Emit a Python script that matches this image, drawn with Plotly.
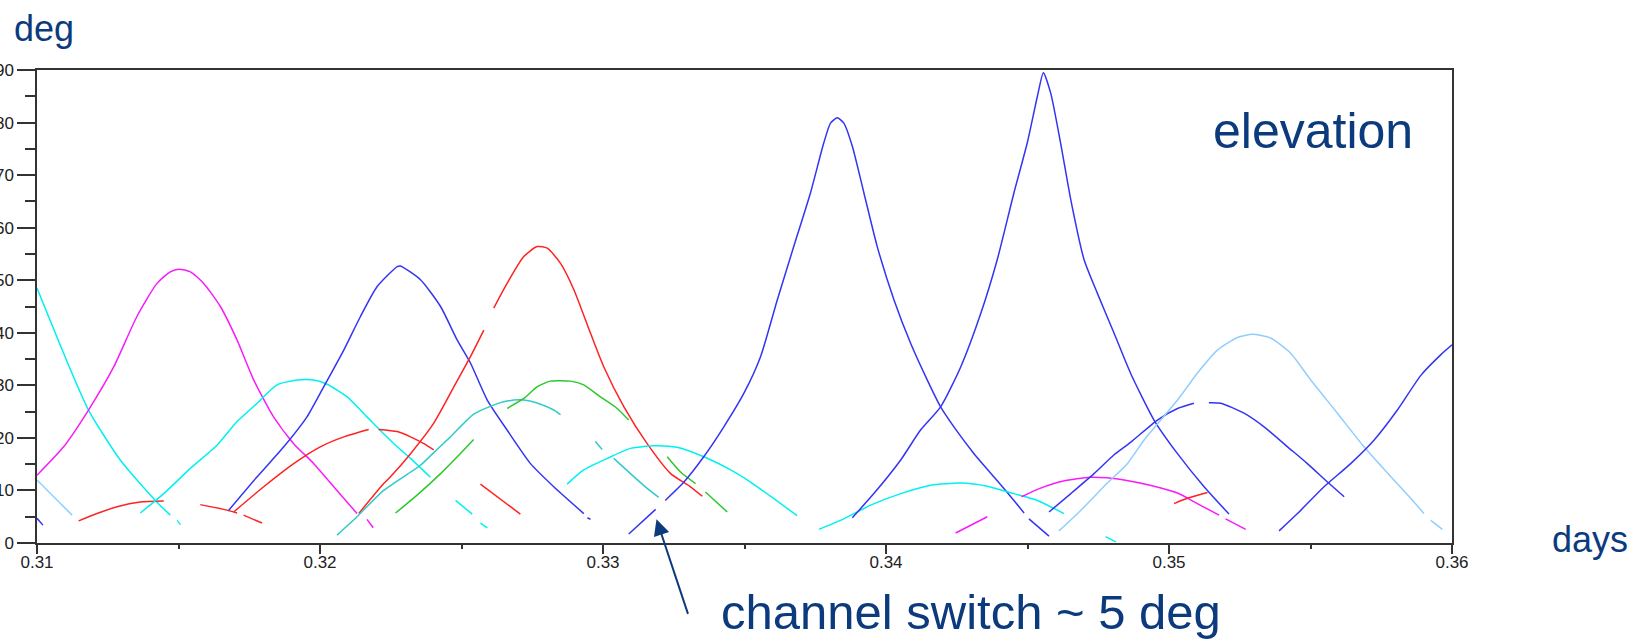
import plotly.graph_objects as go

# ---- satellite elevation tracks (days, degrees); None marks a break in a track ----
t01_days = [0.31, 0.31094, 0.31182, 0.31294, 0.31418, 0.31471, None, 0.31495, 0.31507]
t01_elev = [48.5, 36.1, 25.3, 15.8, 8.1, 5.3, None, 4.3, 3.5]

t02_days = [0.31, 0.31124]
t02_elev = [12.0, 5.3]

t03_days = [0.31, 0.31021]
t03_elev = [4.7, 3.4]

t04_days = [0.31, 0.31094, 0.31182, 0.31271, 0.31353, 0.31424, 0.31471, 0.31501, 0.31542,
            0.31589, 0.31648, 0.31707, 0.31766, 0.31836, 0.31907, 0.31978, 0.3206, 0.32131,
            None, 0.32166, 0.32188]
t04_elev = [12.9, 18.3, 25.3, 33.5, 43.1, 49.4, 51.6, 52.1, 51.6,
            49.4, 45.0, 38.6, 31.0, 24.0, 18.9, 15.1, 10.0, 5.6,
            None, 4.5, 2.9]

t05_days = [0.31147, 0.31212, 0.31283, 0.31365, 0.31448]
t05_elev = [4.2, 5.6, 6.9, 7.8, 8.0]

t06_days = [0.31365, 0.31448, 0.31542, 0.31636, 0.31707, 0.31778, 0.31848, 0.31919, 0.31978,
            0.32025, 0.32096, 0.32166, 0.32225, 0.32273, 0.3232, 0.3239]
t06_elev = [5.7, 9.4, 14.2, 18.6, 23.1, 26.6, 30.1, 31.0, 31.0,
            30.2, 27.8, 24.0, 20.8, 18.3, 16.1, 12.5]

t07_days = [0.31577, 0.3166, 0.31707, None, 0.3173, 0.31795]
t07_elev = [7.3, 6.4, 5.7, None, 5.3, 3.8]

t08_days = [0.31677, 0.31778, 0.31872, 0.31954, 0.32013, 0.32084, 0.32143, 0.32202, 0.32273,
            0.32284, 0.32355, 0.32426, 0.32485, 0.32532, 0.32591, 0.32661, 0.32744, 0.32826,
            0.32932, None, 0.32945, 0.32956]
t08_elev = [6.2, 12.6, 18.3, 24.0, 29.7, 36.7, 43.1, 48.8, 52.6,
            52.7, 50.1, 45.0, 38.6, 34.2, 27.2, 21.5, 15.1, 10.7,
            5.6, None, 4.8, 4.5]

t09_days = [0.31695, 0.31801, 0.31907, 0.32001, 0.32084, 0.32172, None, 0.32207, 0.32273,
            0.3232, 0.32367, 0.32402]
t09_elev = [5.9, 10.7, 15.1, 18.3, 20.2, 21.6, None, 21.6, 21.2, 20.2, 18.9, 17.7]

t10_days = [0.32137, 0.32225, 0.32249, 0.3232, 0.32402, 0.32473, 0.32532, 0.32579, None,
            0.32614, 0.32661, 0.3272, 0.32767, 0.32803, 0.3285, 0.32897, 0.32956, 0.33003,
            0.33074, 0.33156, 0.33239, 0.33309, 0.33351]
t10_elev = [5.6, 11.3, 12.6, 17.0, 22.8, 29.7, 35.5, 40.5, None,
            44.7, 49.4, 54.5, 56.4, 56.1, 53.2, 48.2, 39.9, 33.5,
            25.9, 18.9, 13.2, 10.7, 8.9]

t11_days = [0.3206, 0.32131, 0.32225, 0.32355, 0.32402, 0.32461, 0.32543, 0.32602, 0.32661,
            0.3272, 0.32779, 0.32826, 0.3285]
t11_elev = [1.5, 5.0, 10.0, 14.8, 17.2, 20.2, 24.5, 26.0, 27.0, 27.2, 26.4, 25.3, 24.4]

t12_days = [0.32267, 0.32343, 0.32426, 0.32485, 0.32543]
t12_elev = [5.7, 9.1, 13.2, 16.4, 19.7]

t13_days = [0.32661, 0.3272, 0.32767, 0.32814, 0.32885, 0.32932, 0.32991, 0.3305, 0.33091]
t13_elev = [25.6, 27.5, 29.7, 30.8, 30.8, 30.1, 27.8, 25.6, 23.4]

t14_days = [0.32479, 0.32538, None, 0.32567, 0.32591]
t14_elev = [8.1, 5.5, None, 3.8, 2.9]

t15_days = [0.32567, 0.32708]
t15_elev = [11.2, 5.5]

t16_days = [0.32873, 0.32932, 0.33015, 0.33097, 0.3318, 0.33262, 0.33356, 0.33451, 0.33521,
            0.33592, 0.33686]
t16_elev = [11.2, 13.9, 16.1, 18.0, 18.5, 18.2, 16.4, 13.9, 11.6, 8.9, 5.2]

t17_days = [0.32973, 0.32997, None, 0.33038, 0.33097, 0.33156, 0.33197]
t17_elev = [19.3, 17.8, None, 16.1, 13.2, 10.4, 8.7]

t18_days = [0.33227, 0.33274, 0.33327, None, 0.33362, 0.33439]
t18_elev = [16.4, 13.5, 11.3, None, 9.7, 5.9]

t19_days = [0.33091, 0.33186]
t19_elev = [1.7, 6.4]

t20_days = [0.3322, 0.33286, 0.33356, 0.33427, 0.33498, 0.33557, 0.33616, 0.33674, 0.33733,
            0.3378, 0.33804, 0.33828, 0.33851, 0.33881, 0.33922, 0.33969, 0.34028, 0.34087,
            0.34146, 0.34193, 0.3424, 0.34311, 0.34381, 0.34452, 0.34488, None, 0.34505, 0.34576]
t20_elev = [8.1, 11.6, 16.4, 22.1, 28.5, 35.5, 46.3, 56.4, 66.6,
            76.1, 79.9, 80.9, 79.9, 75.5, 66.6, 56.4, 46.3, 38.0,
            31.0, 25.9, 22.1, 17.0, 12.6, 8.1, 5.7, None, 4.6, 1.3]

t21_days = [0.33763, 0.33851, 0.33946, 0.34052, 0.34158, 0.34264, 0.34358, 0.34452, 0.34535,
            0.34629]
t21_elev = [2.6, 4.6, 7.2, 9.4, 11.0, 11.4, 10.8, 9.4, 8.1, 5.6]

t22_days = [0.33881, 0.33957, 0.34052, 0.34122, 0.34193, 0.34264, 0.34335, 0.34393, 0.34452,
            0.34499, 0.34535, 0.34556, 0.34582, 0.34617, 0.34653, 0.347, 0.34747, 0.34806,
            0.34865, 0.34947, 0.3503, 0.35124, 0.35212]
t22_elev = [4.8, 9.4, 15.8, 21.5, 25.9, 33.5, 43.7, 53.9, 66.6,
            76.1, 85.0, 89.5, 85.6, 76.1, 65.3, 53.9, 47.5, 39.9,
            32.2, 23.4, 17.0, 10.7, 5.5]

t23_days = [0.34246, 0.34358]
t23_elev = [1.9, 5.0]

t24_days = [0.34479, 0.34544, 0.34627, 0.34721, 0.3478, 0.34851, 0.34933, 0.3503, 0.351,
            0.35177, None, 0.352, 0.35271]
t24_elev = [8.8, 10.4, 11.8, 12.5, 12.4, 11.9, 11.0, 9.5, 7.5, 5.3, None, 4.6, 2.6]

t25_days = [0.34576, 0.34653, 0.34735, 0.34806, 0.34865, 0.34959, 0.3503, 0.35088, None,
            0.35141, 0.35183, 0.35265, 0.35336, 0.35419, 0.35489, 0.3556, 0.35619]
t25_elev = [5.9, 9.4, 13.2, 16.8, 19.2, 23.4, 25.6, 26.6, None,
            26.7, 26.6, 24.7, 22.1, 18.3, 15.1, 11.6, 8.8]

t26_days = [0.34611, 0.34688, 0.34782, 0.34853, 0.34912, 0.3503, 0.351, 0.35171, 0.35242,
            0.35295, 0.35359, 0.3543, 0.35501, 0.35595, 0.35689, 0.35784, 0.35854, 0.35901,
            None, 0.35925, 0.35966]
t26_elev = [2.3, 6.2, 11.4, 15.1, 19.6, 27.2, 32.3, 36.7, 39.1,
            39.7, 39.0, 36.1, 31.0, 24.7, 18.3, 12.6, 8.5, 5.6,
            None, 4.3, 2.6]

t27_days = [0.35018, 0.35065, 0.35136]
t27_elev = [7.5, 8.5, 9.6]

t28_days = [0.35389, 0.35454, 0.35548, 0.35642, 0.35725, 0.35807, 0.3589, 0.3596, 0.36]
t28_elev = [2.3, 5.6, 10.7, 15.1, 19.6, 25.3, 31.9, 35.8, 37.7]

t29_days = [0.34776, 0.34812]
t29_elev = [1.2, 0.2]

x_tick_vals = [0.31, 0.32, 0.33, 0.34, 0.35, 0.36]
x_tick_text = ["0.31", "0.32", "0.33", "0.34", "0.35", "0.36"]
y_tick_vals = [0, 10, 20, 30, 40, 50, 60, 70, 80, 90]
y_tick_text = ["0", "10", "20", "30", "40", "50", "60", "70", "80", "90"]

# ---- styling ----
CYAN = "#00F0F0"
MAGENTA = "#F81CF8"
BLUE = "#3434F4"
RED = "#FF2222"
GREEN = "#2CC82C"
TEAL = "#30CACA"
LIGHTBLUE = "#90CEFF"
NAVY = "#0C3B7D"
AXIS = "#333333"
FONT = "Liberation Sans, Arial, sans-serif"

tracks = [
    (t01_days, t01_elev, CYAN), (t02_days, t02_elev, LIGHTBLUE), (t03_days, t03_elev, BLUE),
    (t04_days, t04_elev, MAGENTA), (t05_days, t05_elev, RED), (t06_days, t06_elev, CYAN),
    (t07_days, t07_elev, RED), (t08_days, t08_elev, BLUE), (t09_days, t09_elev, RED),
    (t10_days, t10_elev, RED), (t11_days, t11_elev, TEAL), (t12_days, t12_elev, GREEN),
    (t13_days, t13_elev, GREEN), (t14_days, t14_elev, CYAN), (t15_days, t15_elev, RED),
    (t16_days, t16_elev, CYAN), (t17_days, t17_elev, TEAL), (t18_days, t18_elev, GREEN),
    (t19_days, t19_elev, BLUE), (t20_days, t20_elev, BLUE), (t21_days, t21_elev, CYAN),
    (t22_days, t22_elev, BLUE), (t23_days, t23_elev, MAGENTA), (t24_days, t24_elev, MAGENTA),
    (t25_days, t25_elev, BLUE), (t26_days, t26_elev, LIGHTBLUE), (t27_days, t27_elev, RED),
    (t28_days, t28_elev, BLUE), (t29_days, t29_elev, CYAN),
]

fig = go.Figure()
for days, elev, color in tracks:
    fig.add_trace(go.Scatter(x=days, y=elev, mode="lines", connectgaps=False,
                             line=dict(color=color, width=1.5, shape="spline", smoothing=0.6),
                             hoverinfo="skip", showlegend=False))

# plot area in page pixels
L, R, T, B = 37, 1452, 70, 543
W_PAGE, H_PAGE = 1652, 640


def px(X):
    return (X - L) / (R - L)


def py(Y):
    return (B - Y) / (B - T)


tick_font = dict(size=17, family=FONT, color="#222222")

fig.update_layout(
    width=W_PAGE, height=H_PAGE,
    margin=dict(l=L, r=W_PAGE - R, t=T, b=H_PAGE - B, pad=0),
    paper_bgcolor="white", plot_bgcolor="white",
    font=dict(family=FONT, color="#222222", size=16),
    xaxis=dict(range=[0.31, 0.36], tickvals=x_tick_vals, ticktext=x_tick_text,
               automargin=False, showgrid=False, zeroline=False, showline=True, mirror=True,
               linecolor=AXIS, linewidth=1.5, ticks="outside", ticklen=9, tickwidth=1.5,
               tickcolor=AXIS, tickfont=tick_font, ticklabelstandoff=-6,
               minor=dict(dtick=0.005, ticks="outside", ticklen=4, tickwidth=1.5,
                          tickcolor=AXIS, showgrid=False)),
    yaxis=dict(range=[0, 90], tickvals=y_tick_vals, ticktext=y_tick_text,
               automargin=False, showgrid=False, zeroline=False, showline=True, mirror=True,
               linecolor=AXIS, linewidth=1.5, ticks="outside", ticklen=18, tickwidth=1.5,
               tickcolor=AXIS, tickfont=tick_font,
               minor=dict(dtick=5, ticks="outside", ticklen=10, tickwidth=1.5,
                          tickcolor=AXIS, showgrid=False)),
)

fig.add_annotation(text="elevation", xref="paper", yref="paper", x=px(1211), y=py(130.5),
                   xanchor="left", yanchor="middle", showarrow=False,
                   font=dict(size=50, color=NAVY, family=FONT))
fig.add_annotation(text="deg", xref="paper", yref="paper", x=px(12), y=py(29),
                   xanchor="left", yanchor="middle", showarrow=False,
                   font=dict(size=36, color=NAVY, family=FONT))
fig.add_annotation(text="days", xref="paper", yref="paper", x=px(1550), y=py(539),
                   xanchor="left", yanchor="middle", showarrow=False,
                   font=dict(size=36, color=NAVY, family=FONT))
fig.add_annotation(text="channel switch ~ 5 deg", xref="paper", yref="paper",
                   x=px(719), y=py(612), xanchor="left", yanchor="middle",
                   showarrow=False, font=dict(size=49, color=NAVY, family=FONT))
fig.add_annotation(text="", x=0.33189, y=4.5, xref="x", yref="y", showarrow=True,
                   ax=32, ay=96, arrowhead=2, arrowsize=1.6, arrowwidth=2,
                   arrowcolor=NAVY, standoff=0)

fig.write_html("out.html")
